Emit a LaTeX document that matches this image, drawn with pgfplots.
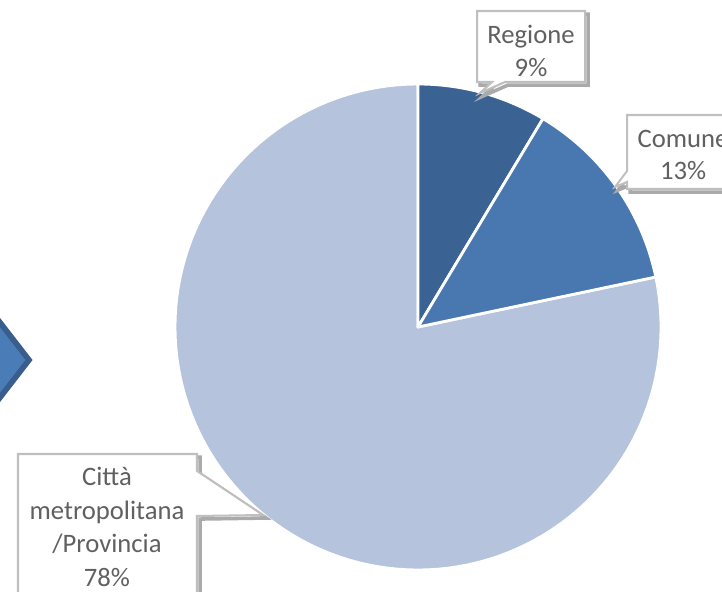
\documentclass[border=0pt]{standalone}
\usepackage{pgfplots}
\pgfplotsset{compat=1.18}
\usepackage{pgfplotstable}
\usepackage{fontspec}
\setmainfont{Carlito}
\definecolor{cReg}{RGB}{58,99,148}
\definecolor{cCom}{RGB}{73,120,177}
\definecolor{cCit}{RGB}{182,195,221}
\definecolor{arrFill}{RGB}{74,124,184}
\definecolor{arrEdge}{RGB}{57,94,140}
\definecolor{boxEdge}{RGB}{191,191,191}
\definecolor{shadowc}{RGB}{170,170,170}
\definecolor{txt}{RGB}{96,96,96}

\pgfplotstableread{
name value
Regione 8.6
Comune 13.1
Citta 78.3
}\piedata

\begin{document}
\begin{tikzpicture}
\pgfplotstablegetelem{0}{value}\of\piedata \let\va\pgfplotsretval
\pgfplotstablegetelem{1}{value}\of\piedata \let\vb\pgfplotsretval
\pgfmathsetmacro\aA{\va*3.6}
\pgfmathsetmacro\aB{(\va+\vb)*3.6}
\useasboundingbox (0,0) rectangle (10cm,8.1994cm);
\clip (0,0) rectangle (10cm,8.1994cm);
\begin{axis}[at={(0,0)},anchor=south west, scale only axis, width=10cm, height=8.1994cm,
  xmin=0,xmax=722,ymin=0,ymax=592, y dir=reverse, hide axis, clip=false]
% left chevron (partly outside the picture)
\addplot[fill=arrFill, draw=arrEdge, line width=2.2pt] coordinates {(-40,270.75) (29,360) (-40,449.25)} -- cycle;
% pie slices
\addplot[fill=cCit, draw=white, line width=1.1pt, line join=round, domain=\aB:360, samples=120] ({418+243*sin(x)},{327-243*cos(x)}) -- (axis cs:418,327) -- cycle;
\addplot[fill=cReg, draw=white, line width=1.1pt, line join=round, domain=0:\aA, samples=30] ({418+243*sin(x)},{327-243*cos(x)}) -- (axis cs:418,327) -- cycle;
\addplot[fill=cCom, draw=white, line width=1.1pt, line join=round, domain=\aA:\aB, samples=40] ({418+243*sin(x)},{327-243*cos(x)}) -- (axis cs:418,327) -- cycle;
% callout: Regione
\draw[shadowc, line width=1.4pt, xshift=1.2pt, yshift=-1.2pt] (axis cs:477,11) -- (axis cs:585,11) -- (axis cs:585,82) -- (axis cs:505,82) -- (axis cs:480,93) -- (axis cs:492,82) -- (axis cs:477,82) -- cycle;
\draw[boxEdge, fill=white, line width=0.8pt] (axis cs:477,11) -- (axis cs:585,11) -- (axis cs:585,82) -- (axis cs:505,82) -- (axis cs:480,93) -- (axis cs:492,82) -- (axis cs:477,82) -- cycle;
\node[align=center, text=txt, font=\fontsize{10.5}{12.8}\selectfont] at (axis cs:531,51) {Regione\\9\%};
% callout: Comune
\draw[shadowc, line width=1.4pt, xshift=1.2pt, yshift=-1.2pt] (axis cs:627,115) -- (axis cs:745,115) -- (axis cs:745,189) -- (axis cs:627,189) -- (axis cs:627,182) -- (axis cs:615,187) -- (axis cs:627,171) -- cycle;
\draw[boxEdge, fill=white, line width=0.8pt] (axis cs:627,115) -- (axis cs:745,115) -- (axis cs:745,189) -- (axis cs:627,189) -- (axis cs:627,182) -- (axis cs:615,187) -- (axis cs:627,171) -- cycle;
\node[align=center, text=txt, font=\fontsize{10.5}{12.8}\selectfont] at (axis cs:683,155) {Comune\\13\%};
% callout: Citta metropolitana / Provincia
\draw[shadowc, line width=1.4pt, xshift=1.2pt, yshift=-1.2pt] (axis cs:18,454) -- (axis cs:197,454) -- (axis cs:197,471) -- (axis cs:263,515) -- (axis cs:197,516) -- (axis cs:197,620) -- (axis cs:18,620) -- cycle;
\draw[boxEdge, fill=white, line width=0.8pt] (axis cs:18,454) -- (axis cs:197,454) -- (axis cs:197,471) -- (axis cs:263,515) -- (axis cs:197,516) -- (axis cs:197,620) -- (axis cs:18,620) -- cycle;
\node[align=center, text=txt, font=\fontsize{10.5}{13.3}\selectfont] at (axis cs:107,527) {Città\\metropolitana\\/Provincia\\78\%};
\end{axis}
\end{tikzpicture}
\end{document}
